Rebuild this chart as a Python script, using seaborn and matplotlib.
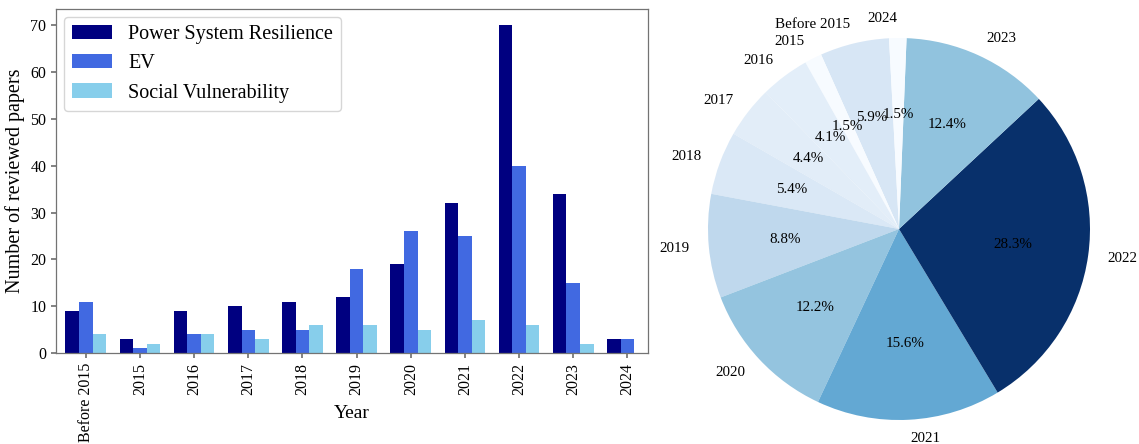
import numpy as np
import pandas as pd
import matplotlib
matplotlib.use('Agg')
import matplotlib.pyplot as plt
import seaborn as sns

# Data
years = ['Before 2015', '2015', '2016', '2017', '2018', '2019',
         '2020', '2021', '2022', '2023', '2024']
power_resilience = [9, 3, 9, 10, 11, 12, 19, 32, 70, 34, 3]
ev = [11, 1, 4, 5, 5, 18, 26, 25, 40, 15, 3]
social_vuln = [4, 2, 4, 3, 6, 6, 5, 7, 6, 2, 0]
series_names = ['Power System Resilience', 'EV', 'Social Vulnerability']
series_colors = ['#000080', '#4169E1', '#87CEEB']

sns.set_theme(style="ticks")
plt.rcParams['font.family'] = ['Liberation Serif', 'DejaVu Serif']
plt.rcParams['text.color'] = 'black'
plt.rcParams['axes.labelcolor'] = 'black'
plt.rcParams['axes.edgecolor'] = '0.45'
plt.rcParams['xtick.color'] = '0.45'
plt.rcParams['ytick.color'] = '0.45'
plt.rcParams['xtick.labelcolor'] = 'black'
plt.rcParams['ytick.labelcolor'] = 'black'

df = pd.DataFrame({
    'Year': years * 3,
    'Count': power_resilience + ev + social_vuln,
    'Topic': [n for n in series_names for _ in years],
})

fig = plt.figure(figsize=(11.39, 4.44), dpi=100)

# Left: grouped bar chart
ax = fig.add_axes([56 / 1139, 91 / 444, 592 / 1139, 344 / 444])
sns.barplot(data=df, x='Year', y='Count', hue='Topic', order=years,
            hue_order=series_names, palette=dict(zip(series_names, series_colors)),
            width=0.75, gap=0, saturation=1, linewidth=0, errorbar=None, ax=ax)
ax.set_xlim(-0.55, 10.38)
ax.set_ylim(0, 73.5)
ax.set_xlabel('Year', fontsize=14)
ax.xaxis.set_label_coords(0.5, -0.15)
ax.set_ylabel('Number of reviewed papers', fontsize=14.5)
ax.tick_params(axis='x', labelrotation=90, labelsize=11.5, length=3.5)
ax.tick_params(axis='y', labelsize=11.5, length=3.5)
for s in ax.spines.values():
    s.set_visible(True)
    s.set_linewidth(0.9)
ax.legend(loc='upper left', fontsize=14.5, frameon=True, borderaxespad=0.4)

# Right: pie of total papers per year
totals = np.array(power_resilience) + np.array(ev) + np.array(social_vuln)
norm = plt.Normalize(totals.min(), totals.max())
pie_colors = plt.cm.Blues(norm(totals))

ax2 = fig.add_axes([660.25 / 1139, -23.75 / 444, 477.5 / 1139, 477.5 / 444])
ax2.pie(totals, labels=years, autopct='%1.1f%%', startangle=93,
        colors=pie_colors, wedgeprops={'linewidth': 0},
        textprops={'fontsize': 10.8, 'color': 'black'})
ax2.set_aspect('equal')

fig.savefig('out.png', dpi=100)
